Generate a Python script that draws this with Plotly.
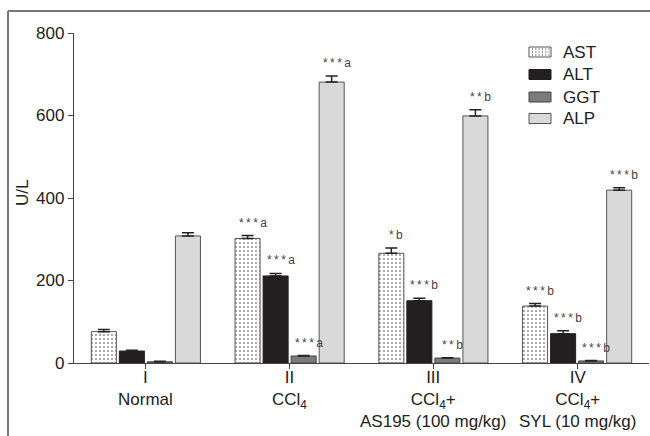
import plotly.graph_objects as go

groups = ["I", "II", "III", "IV"]
group_labels = ["I<br>Normal", "II<br>CCl<sub>4</sub>", "III<br>CCl<sub>4</sub>+<br>AS195 (100 mg/kg)",
                "IV<br>CCl<sub>4</sub>+<br>SYL (10 mg/kg)"]
series = ["AST", "ALT", "GGT", "ALP"]
ast = [76, 302, 266, 138]
alt = [29, 211, 151, 71]
ggt = [3, 17, 12, 5]
alp = [308, 681, 599, 419]
ast_err = [5, 7, 13, 6]
alt_err = [2, 6, 6, 7]
ggt_err = [1, 1, 1, 1]
alp_err = [8, 15, 15, 6]
ast_sig = ["", "***a", "*b", "***b"]
alt_sig = ["", "***a", "***b", "***b"]
ggt_sig = ["", "***a", "**b", "***b"]
alp_sig = ["", "***a", "**b", "***b"]

values = [ast, alt, ggt, alp]
errors = [ast_err, alt_err, ggt_err, alp_err]
sigs = [ast_sig, alt_sig, ggt_sig, alp_sig]
fills = ["white", "#231f20", "#7b7b7b", "#d9d9d9"]
outlines = ["#555555", "#231f20", "#444444", "#555555"]

FONT = "Liberation Sans, Arial, sans-serif"
L, T, W, H = 74, 33, 575, 330  # plot area in pixels


def px(x):
    return (x - L) / W


def py(y):
    return (T + H - y) / H


fig = go.Figure()
for i, name in enumerate(series):
    marker = dict(color=fills[i], line=dict(color=outlines[i], width=1))
    if name == "AST":
        marker["pattern"] = dict(shape=".", fgcolor="#222222", bgcolor="white",
                                 size=4, solidity=0.2, fillmode="overlay")
    fig.add_trace(go.Bar(
        name=name, x=groups, y=values[i], marker=marker, showlegend=False,
        hoverinfo="skip",
        error_y=dict(type="data", array=errors[i], arrayminus=[0] * 4,
                     symmetric=False, color="#222222", thickness=1.5, width=6),
    ))


def sig_text(s):
    stars = s.rstrip("ab")
    letter = s[len(stars):]
    return "\u2009".join(list(stars)) + "\u2009" + letter


# significance labels
for i in range(len(series)):
    for j in range(len(groups)):
        if sigs[i][j]:
            off = (i - 1.5) * 0.195
            fig.add_annotation(x=j + off, y=values[i][j] + errors[i][j],
                               xref="x", yref="y", text=sig_text(sigs[i][j]), showarrow=False,
                               yanchor="bottom", xshift=5, yshift=4,
                               font=dict(size=12, color="#444444", family=FONT))

# x category labels
for j, lab in enumerate(group_labels):
    fig.add_annotation(x=j, y=py(366), xref="x", yref="paper", text=lab, showarrow=False,
                       yanchor="top", align="center",
                       font=dict(size=17, color="#222222", family=FONT))

# y-axis title
fig.add_annotation(x=px(22), y=py(193), xref="paper", yref="paper", text="U/L",
                   textangle=-90, showarrow=False, xanchor="center", yanchor="middle",
                   font=dict(size=17, color="#222222", family=FONT))

# custom legend
sw_x0, sw_x1 = 529, 551
centers = [52, 74.5, 97, 118.5]
for i, name in enumerate(series):
    cy = centers[i]
    fig.add_shape(type="rect", xref="paper", yref="paper",
                  x0=px(sw_x0), x1=px(sw_x1), y0=py(cy + 5), y1=py(cy - 5),
                  fillcolor=fills[i], line=dict(color=outlines[i], width=1))
    fig.add_annotation(x=px(561), y=py(cy), xref="paper", yref="paper", text=name,
                       xanchor="left", yanchor="middle", showarrow=False,
                       font=dict(size=17, color="#222222", family=FONT))
# dots in AST swatch
for r in range(3):
    for c in range(6):
        dx = sw_x0 + 3 + c * 3.3
        dy = centers[0] - 3 + r * 3
        fig.add_shape(type="rect", xref="paper", yref="paper",
                      x0=px(dx), x1=px(dx + 1), y0=py(dy + 0.5), y1=py(dy - 0.5),
                      fillcolor="#222222", line=dict(width=0))

# frame (left and top borders)
fig.add_shape(type="line", xref="paper", yref="paper", x0=px(8), x1=px(8), y0=py(440), y1=py(11),
              line=dict(color="#777777", width=2))
fig.add_shape(type="line", xref="paper", yref="paper", x0=px(8), x1=px(655), y0=py(11), y1=py(11),
              line=dict(color="#777777", width=2))

fig.update_layout(
    width=650, height=436,
    margin=dict(l=L, r=650 - L - W, t=T, b=436 - T - H, autoexpand=False),
    paper_bgcolor="white", plot_bgcolor="white",
    barmode="group", bargap=0.22, bargroupgap=0.107,
    font=dict(family=FONT, size=17, color="#222222"),
    showlegend=False, hovermode=False,
    xaxis=dict(type="category", showline=True, linecolor="#444444", linewidth=1.2,
               ticks="outside", ticklen=5, tickcolor="#444444", showgrid=False,
               showticklabels=False, range=[-0.5, 3.5], automargin=False),
    yaxis=dict(range=[0, 800], tickvals=[0, 200, 400, 600, 800], showline=True,
               linecolor="#444444", linewidth=1.2, ticks="outside", ticklen=5,
               tickcolor="#444444", showgrid=False, zeroline=False, automargin=False,
               tickfont=dict(size=17, color="#222222")),
)

fig.write_html("out.html", config={"displayModeBar": False, "staticPlot": True},
               post_script="document.body.style.margin='0';document.body.style.overflow='hidden';")
